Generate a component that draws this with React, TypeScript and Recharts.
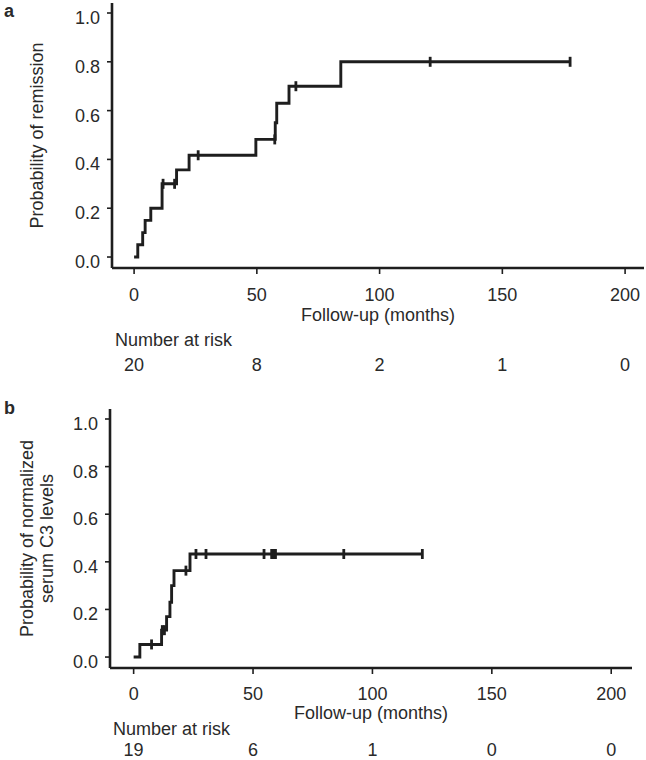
import { ComposedChart, Line, Scatter, XAxis, YAxis } from "recharts";

const FONT = "'Liberation Sans', Arial, sans-serif";
const INK = "#1e1e1e";
const TEXT = "#2a2a2a";

const xTicks = [0, 50, 100, 150, 200];
const yTicks = [0, 0.2, 0.4, 0.6, 0.8, 1.0];

// panel a: remission
const remissionTimes = [0, 1.5, 3.5, 4.5, 6.8, 11.4, 17.3, 22.4, 49.6, 57.5, 58.1, 63.1, 84.2, 177.6];
const remissionProb = [0, 0.05, 0.1, 0.15, 0.2, 0.3, 0.357, 0.417, 0.482, 0.55, 0.63, 0.7, 0.8, 0.8];
const remissionCensorTimes = [11.8, 16.5, 26.1, 57.3, 65.9, 120.6, 177.6];
const remissionCensorProb = [0.3, 0.3, 0.417, 0.482, 0.7, 0.8, 0.8];
const remissionAtRisk = [20, 8, 2, 1, 0];

// panel b: normalized serum C3
const c3Times = [0, 2.6, 11.7, 13.8, 15.2, 15.9, 16.9, 23.6, 120.9];
const c3Prob = [0, 0.053, 0.113, 0.17, 0.23, 0.3, 0.363, 0.433, 0.433];
const c3CensorTimes = [7.5, 12.0, 12.9, 21.9, 26.1, 30.3, 54.6, 57.8, 58.6, 59.4, 88.0, 120.9];
const c3CensorProb = [0.053, 0.113, 0.113, 0.363, 0.433, 0.433, 0.433, 0.433, 0.433, 0.433, 0.433, 0.433];
const c3AtRisk = [19, 6, 1, 0, 0];

const toPoints = (t: number[], p: number[]) => t.map((v, i) => ({ t: v, p: p[i] }));

type PanelProps = {
  steps: { t: number; p: number }[];
  censors: { t: number; p: number }[];
  atRisk: number[];
  yLines: string[];
  yLineX: number[];
  margin: { top: number; right: number; bottom: number; left: number };
  xAxisHeight: number;
  xDomain: [number, number];
  yDomain: [number, number];
  tickDy: number;
  titleDy: number;
  narDy: number;
  riskDy: number;
};

const CensorMark = (props: any) => {
  const { cx, cy } = props;
  if (cx == null || cy == null) return <g />;
  return <line x1={cx} x2={cx} y1={cy - 5} y2={cy + 5} stroke={INK} strokeWidth={2.8} />;
};

function KmPanel(p: PanelProps) {
  const xTick = (props: any) => {
    const { x, y, payload } = props;
    const i = xTicks.indexOf(payload.value);
    return (
      <g>
        <text x={x} y={y + p.tickDy} textAnchor="middle" dominantBaseline="central" fontSize={18} fontFamily={FONT} fill={TEXT}>
          {payload.value}
        </text>
        <text x={x} y={y + p.riskDy} textAnchor="middle" dominantBaseline="central" fontSize={18} fontFamily={FONT} fill={TEXT}>
          {p.atRisk[i]}
        </text>
      </g>
    );
  };

  const yTick = (props: any) => {
    const { x, y, payload } = props;
    return (
      <text x={x - 7} y={y + 5} textAnchor="end" dominantBaseline="central" fontSize={18} fontFamily={FONT} fill={TEXT}>
        {Number(payload.value).toFixed(1)}
      </text>
    );
  };

  const xLabel = (props: any) => {
    const vb = props.viewBox || {};
    return (
      <g>
        <text x={vb.x + vb.width / 2} y={vb.y + p.titleDy} textAnchor="middle" dominantBaseline="central" fontSize={18} fontFamily={FONT} fill={TEXT}>
          Follow-up (months)
        </text>
        <text x={vb.x + 3} y={vb.y + p.narDy} textAnchor="start" dominantBaseline="central" fontSize={18} fontFamily={FONT} fill={TEXT}>
          Number at risk
        </text>
      </g>
    );
  };

  const yLabel = (props: any) => {
    const vb = props.viewBox || {};
    const cy = vb.y + vb.height / 2;
    return (
      <g>
        {p.yLines.map((s, i) => (
          <text
            key={i}
            transform={`translate(${p.yLineX[i]},${cy}) rotate(-90)`}
            textAnchor="middle"
            dominantBaseline="central"
            fontSize={18}
            fontFamily={FONT}
            fill={TEXT}
          >
            {s}
          </text>
        ))}
      </g>
    );
  };

  return (
    <ComposedChart width={646} height={380} margin={p.margin}>
      <XAxis
        type="number"
        dataKey="t"
        domain={p.xDomain}
        allowDataOverflow
        ticks={xTicks}
        interval={0}
        height={p.xAxisHeight}
        tickSize={6}
        tickMargin={0}
        axisLine={{ stroke: INK, strokeWidth: 2.6 }}
        tickLine={{ stroke: INK, strokeWidth: 1.6 }}
        tick={xTick}
        label={xLabel}
      />
      <YAxis
        type="number"
        dataKey="p"
        domain={p.yDomain}
        allowDataOverflow
        ticks={yTicks}
        interval={0}
        width={70}
        tickSize={5}
        tickMargin={0}
        axisLine={{ stroke: INK, strokeWidth: 2.6 }}
        tickLine={{ stroke: INK, strokeWidth: 1.6 }}
        tick={yTick}
        label={yLabel}
      />
      <Line
        data={p.steps}
        dataKey="p"
        type="stepAfter"
        stroke={INK}
        strokeWidth={2.9}
        dot={false}
        activeDot={false}
        isAnimationActive={false}
      />
      <Scatter data={p.censors} dataKey="p" shape={CensorMark} isAnimationActive={false} />
    </ComposedChart>
  );
}

export default function App() {
  return (
    <div style={{ position: "absolute", left: 0, top: 0, width: 646, height: 760, background: "#fff" }}>
      <KmPanel
        steps={toPoints(remissionTimes, remissionProb)}
        censors={toPoints(remissionCensorTimes, remissionCensorProb)}
        atRisk={remissionAtRisk}
        yLines={["Probability of remission"]}
        yLineX={[37]}
        margin={{ top: 3, right: 2, bottom: 0, left: 42 }}
        xAxisHeight={112}
        xDomain={[-9, 207.7]}
        yDomain={[-0.045, 1.041]}
        tickDy={21}
        titleDy={47}
        narDy={72}
        riskDy={91}
      />
      <KmPanel
        steps={toPoints(c3Times, c3Prob)}
        censors={toPoints(c3CensorTimes, c3CensorProb)}
        atRisk={c3AtRisk}
        yLines={["Probability of normalized", "serum C3 levels"]}
        yLineX={[27, 47]}
        margin={{ top: 29, right: 14, bottom: 0, left: 40 }}
        xAxisHeight={92}
        xDomain={[-9.9, 208.7]}
        yDomain={[-0.046, 1.042]}
        tickDy={20}
        titleDy={45}
        narDy={61}
        riskDy={76}
      />
      <svg width={646} height={760} style={{ position: "absolute", left: 0, top: 0, pointerEvents: "none" }}>
        <text x={4} y={17} fontSize={18} fontWeight="bold" fontFamily={FONT} fill={TEXT}>
          a
        </text>
        <text x={4} y={414} fontSize={18} fontWeight="bold" fontFamily={FONT} fill={TEXT}>
          b
        </text>
      </svg>
    </div>
  );
}
